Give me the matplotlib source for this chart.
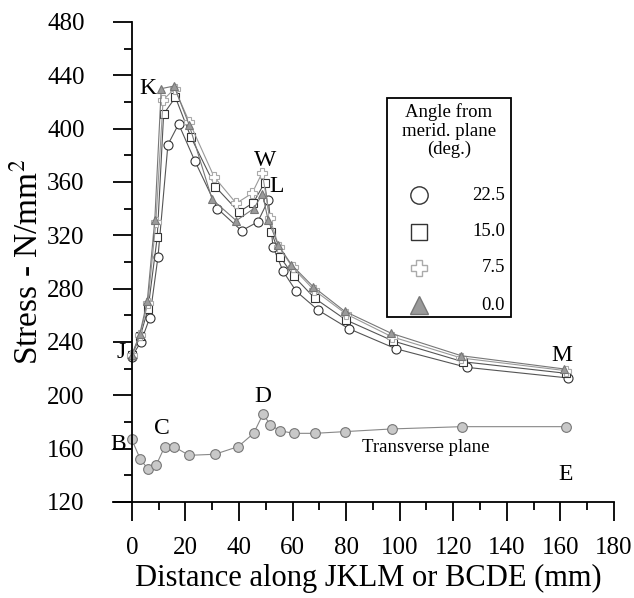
import numpy as np
import matplotlib
matplotlib.use("Agg")
import matplotlib.pyplot as plt
from matplotlib.patches import Rectangle

plt.rcParams["font.family"] = ["Liberation Serif", "DejaVu Serif"]
plt.rcParams["mathtext.fontset"] = "stix"

# meridional plane, one series per angle (deg.)
x_225 = [0, 3.4, 6.7, 9.8, 13.5, 17.5, 23.5, 32, 41, 47, 51, 52.7, 56.5, 61.4, 69.5, 81, 98.5, 125, 163]
y_225 = [229, 240, 258, 304, 388, 403.5, 376, 340, 323.5, 330, 346.5, 311.5, 293, 278, 264, 250, 235, 221, 213]

x_150 = [0, 3.2, 6.1, 9.5, 11.9, 16.3, 22, 31.2, 40, 45.4, 49.6, 52.1, 55.5, 60.4, 68.3, 80, 97.5, 123.6, 162.2]
y_150 = [230, 244.5, 265, 318.5, 411, 423.5, 394, 356.5, 337.5, 344.5, 359.5, 322.7, 303.5, 289.5, 272.8, 256.5, 240.8, 225.2, 216.5]

x_75 = [0, 3, 6, 9, 11.7, 16, 21.5, 30.7, 39, 44.9, 48.7, 51.5, 55, 60, 68, 80, 97, 123, 162]
y_75 = [230, 245, 269, 330, 421.5, 430, 405, 364, 344, 351.5, 367, 333, 311, 296, 279, 261, 244, 228, 218.5]

x_00 = [0, 3, 5.8, 8.6, 11, 15.8, 21.4, 30, 39, 45.5, 48.8, 50.9, 54.6, 59.6, 67.7, 79.5, 96.9, 123, 161.3]
y_00 = [230, 246, 271, 331.5, 430, 432, 403, 347, 331, 340, 351, 331.5, 313, 298, 281.5, 263, 246.5, 229.7, 219.8]

# transverse plane (BCDE)
x_tr = [0, 3.2, 6.1, 9.2, 12.3, 15.7, 21.4, 31, 39.7, 45.5, 49, 51.7, 55.2, 60.4, 68.3, 79.7, 97.1, 123.2, 162.2]
y_tr = [167, 152, 144.7, 148, 161.5, 161.5, 155, 155.8, 161.5, 171.5, 186, 178, 173.5, 171.5, 171.5, 172.8, 174.8, 176.5, 176.5]

legend_values = ["22.5", "15.0", "7.5", "0.0"]

# point labels: (text, x, y)
point_labels = [
    ("K", 6, 430), ("W", 49.6, 376), ("L", 54, 357), ("M", 160.5, 230),
    ("J", -4, 232), ("B", -5, 163.5), ("C", 11.2, 175.5), ("D", 49, 199.5),
    ("E", 162, 141),
]

styles = [
    dict(marker="o", ms=6.5, mfc="white", mec="#333333", color="#555555"),
    dict(marker="s", ms=5.8, mfc="white", mec="#333333", color="#555555"),
    dict(marker="P", ms=6.5, mfc="white", mec="#aaaaaa", color="#999999"),
    dict(marker="^", ms=6, mfc="#9a9a9a", mec="#777777", color="#777777"),
]

fig = plt.figure(figsize=(6.34, 5.98), dpi=100)
ax = fig.add_axes([113 / 634, 96 / 598, 501 / 634, 480 / 598])

for (xs, ys), st in zip([(x_225, y_225), (x_150, y_150), (x_75, y_75), (x_00, y_00)], styles):
    ax.plot(xs, ys, lw=0.8, mew=0.8, **st)

ax.plot(x_tr, y_tr, color="#888888", lw=0.8, marker="o", ms=7,
        mfc="#c8c8c8", mec="#777777", mew=0.8)

for txt, tx, ty in point_labels:
    ax.text(tx, ty, txt, fontsize=17, ha="center", va="center")
ax.text(109.7, 160.5, "Transverse plane", fontsize=13.5, ha="center", va="center")

ax.set_xlim(-7, 180)
ax.set_ylim(120, 480)
ax.spines["left"].set_position(("data", 0))
ax.spines["top"].set_visible(False)
ax.spines["right"].set_visible(False)
for s in ("left", "bottom"):
    ax.spines[s].set_linewidth(1.3)

ax.set_xticks(np.arange(0, 181, 20))
ax.set_xticks(np.arange(10, 181, 20), minor=True)
ax.set_yticks(np.arange(120, 481, 40))
ax.set_yticks(np.arange(140, 481, 40), minor=True)
ax.tick_params(which="major", length=14, width=1.3, labelsize=18, direction="out")
ax.tick_params(which="minor", length=6, width=1.3, direction="out")
ax.tick_params(axis="y", which="major", pad=20)
ax.tick_params(axis="x", which="major", pad=11)

ax.set_xlabel("Distance along JKLM or BCDE (mm)", fontsize=22)
ax.xaxis.set_label_coords(0.509, -0.13)
ax.set_ylabel("Stress - N/mm$^2$", fontsize=24)
ax.yaxis.set_label_coords(-0.136, 0.50)

# legend box
lax = fig.add_axes([387 / 634, (598 - 317) / 598, 124 / 634, 219 / 598])
lax.set_xlim(0, 124)
lax.set_ylim(219, 0)
lax.axis("off")
lax.add_patch(Rectangle((0, 0), 124, 219, fill=False, lw=1.3, ec="black", clip_on=False))
lax.text(62, 33, "Angle from\nmerid. plane\n(deg.)", fontsize=13.5, ha="center",
         va="center", linespacing=1.1)
rows = [97, 134, 170, 207]
leg_ms = [12.5, 12, 12, 13]
for yy, val, st, ms in zip(rows, legend_values, styles, leg_ms):
    lax.plot([32], [yy], marker=st["marker"], ms=ms, mfc=st["mfc"], mec=st["mec"],
             mew=1.0, clip_on=False, ls="none")
    lax.text(118, yy, val, fontsize=13.5, ha="right", va="center")

fig.savefig("out.png", dpi=100)
